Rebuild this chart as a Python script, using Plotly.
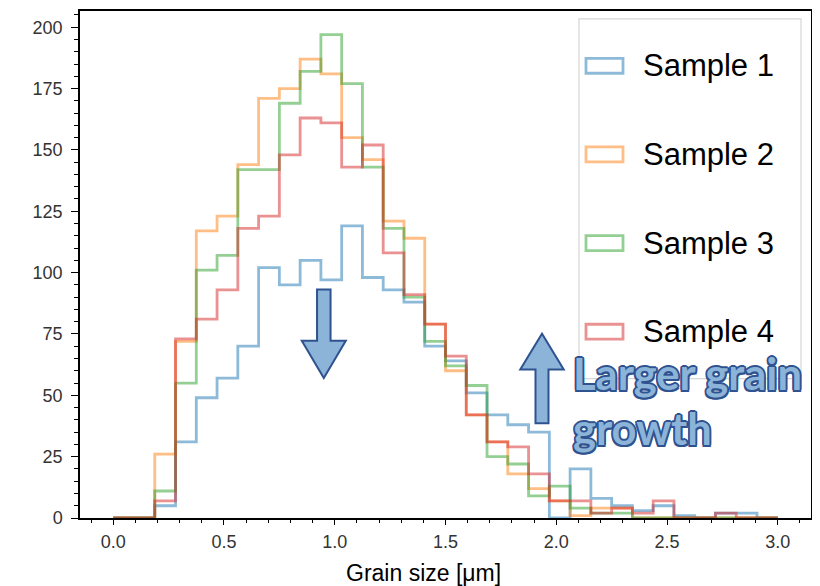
import numpy as np
import plotly.graph_objects as go

# ---------------- data ----------------
BIN_START, BIN_END, N_BINS = 0.0, 3.0, 32
sample_names = ["Sample 1", "Sample 2", "Sample 3", "Sample 4"]
sample1 = [0, 0, 5, 31, 49, 57, 70, 102, 95, 105, 97, 119, 98, 93, 88, 70,
           64, 51, 42, 38, 35, 0, 20, 8, 5, 3, 5, 1, 0, 2, 2, 0]
sample2 = [0, 0, 26, 72, 117, 123, 144, 171, 175, 187, 181, 155, 146, 121, 114, 79,
           60, 42, 31, 18, 12, 7, 1, 4, 4, 0, 0, 0, 0, 0, 0, 0]
sample3 = [0, 0, 11, 55, 101, 107, 142, 142, 169, 182, 197, 177, 143, 118, 90, 72,
           62, 54, 25, 22, 9, 13, 4, 2, 2, 0, 0, 0, 0, 0, 0, 0]
sample4 = [0, 0, 7, 73, 81, 93, 118, 123, 148, 163, 161, 143, 152, 108, 91, 79,
           66, 42, 31, 29, 18, 7, 7, 2, 4, 2, 7, 0, 0, 2, 0, 0]
x_ticks = [0.0, 0.5, 1.0, 1.5, 2.0, 2.5, 3.0]
x_tick_text = ["0.0", "0.5", "1.0", "1.5", "2.0", "2.5", "3.0"]
y_ticks = [0, 25, 50, 75, 100, 125, 150, 175, 200]
x_title = "Grain size [μm]"
note_text = ["Larger grain", "growth"]

colors = ["#1f77b4", "#ff7f0e", "#2ca02c", "#d62728"]
series = [sample1, sample2, sample3, sample4]

W, H = 820, 586
# the page body adds an 8px offset; plot box on screen: x 80..811, y 9..518
OFF = 8
SX0, SX1, SY0, SY1 = 80, 811, 9, 518
ML, MR, MT, MB = SX0 - OFF, W - (SX1 - OFF), SY0 - OFF, H - (SY1 - OFF)
PW, PH = SX1 - SX0, SY1 - SY0


def px(x):
    return (x - SX0) / PW


def py(y):
    return (SY1 - y) / PH


edges = np.linspace(BIN_START, BIN_END, N_BINS + 1)

fig = go.Figure()
for name, counts, col in zip(sample_names, series, colors):
    yv = list(counts) + [counts[-1]]
    fig.add_trace(go.Scatter(
        x=edges, y=yv, mode="lines", name=name,
        line=dict(shape="hv", color=col, width=2.8),
        opacity=0.5, showlegend=False, hoverinfo="skip"))

shapes = []
annotations = []

# legend box
shapes.append(dict(type="rect", xref="paper", yref="paper",
                   x0=px(579), x1=px(801), y0=py(378), y1=py(17),
                   line=dict(color="#d6d6d6", width=1.2),
                   fillcolor="rgba(255,255,255,0.8)", layer="above"))
leg_y = [64, 153, 242, 331]
for name, col, yc in zip(sample_names, colors, leg_y):
    shapes.append(dict(type="rect", xref="paper", yref="paper",
                       x0=px(586), x1=px(623), y0=py(yc + 7.5), y1=py(yc - 7.5),
                       line=dict(color=col, width=2.8), fillcolor="white",
                       opacity=0.5, layer="above"))
    annotations.append(dict(xref="paper", yref="paper", x=px(641), y=py(yc),
                            xanchor="left", yanchor="middle", showarrow=False,
                            text=name,
                            font=dict(family="Liberation Sans, Arial", size=31,
                                      color="black")))

# block arrows
arrow_fill = "#8cb4d8"
arrow_line = "#2f5290"


def block_arrow(cx, y_shaft_end, y_head_base, y_tip, shaft_w, head_w):
    pts = [(cx - shaft_w / 2, y_shaft_end), (cx + shaft_w / 2, y_shaft_end),
           (cx + shaft_w / 2, y_head_base), (cx + head_w / 2, y_head_base),
           (cx, y_tip), (cx - head_w / 2, y_head_base),
           (cx - shaft_w / 2, y_head_base)]
    path = "M " + " L ".join(f"{px(a):.5f},{py(b):.5f}" for a, b in pts) + " Z"
    return dict(type="path", xref="paper", yref="paper", path=path,
                fillcolor=arrow_fill, line=dict(color=arrow_line, width=2),
                layer="above")


shapes.append(block_arrow(323.8, 288.5, 340, 377.5, 13.5, 44))
shapes.append(block_arrow(542, 423, 369, 333, 13, 43.5))

outline = ", ".join(f"{dx}px {dy}px 0 {arrow_line}"
                    for dx, dy in [(-1.5, -1.5), (1.5, -1.5), (-1.5, 1.5), (1.5, 1.5),
                                   (0, -1.8), (0, 1.8), (-1.8, 0), (1.8, 0)])
for txt, yc in zip(note_text, [372, 428]):
    annotations.append(dict(xref="paper", yref="paper", x=px(571), y=py(yc),
                            xanchor="left", yanchor="middle", showarrow=False,
                            text=txt,
                            font=dict(family="Lato", size=43.5, color=arrow_fill,
                                      weight="bold", shadow=outline)))

# x-axis title (centred where the reference places it)
annotations.append(dict(xref="paper", yref="paper", x=px(423), y=py(573),
                        xanchor="center", yanchor="middle", showarrow=False,
                        text=x_title,
                        font=dict(family="Liberation Sans, Arial", size=23,
                                  color="black")))

fig.update_layout(
    width=W, height=H,
    margin=dict(l=ML, r=MR, t=MT, b=MB),
    paper_bgcolor="white", plot_bgcolor="white",
    showlegend=False,
    shapes=shapes, annotations=annotations,
    xaxis=dict(range=[-0.15, 3.15], tickvals=x_ticks, ticktext=x_tick_text,
               ticks="outside", ticklen=5, tickwidth=1.2, tickcolor="black",
               minor=dict(dtick=0.1, tick0=0, ticks="outside", ticklen=3,
                          tickwidth=1, tickcolor="black"),
               showline=True, linecolor="black", linewidth=1.5, mirror=True,
               showgrid=False, zeroline=False, ticklabelstandoff=2,
               tickfont=dict(family="Liberation Sans, Arial", size=18, color="#333")),
    yaxis=dict(range=[0, 206.6], tickvals=y_ticks,
               ticks="outside", ticklen=7, tickwidth=1.2, tickcolor="black",
               minor=dict(dtick=5, tick0=0, ticks="outside", ticklen=4,
                          tickwidth=1, tickcolor="black"),
               showline=True, linecolor="black", linewidth=1.5, mirror=True,
               showgrid=False, zeroline=False, ticklabelstandoff=5,
               tickfont=dict(family="Liberation Sans, Arial", size=18, color="#333")),
)

fig.write_html("out.html")
